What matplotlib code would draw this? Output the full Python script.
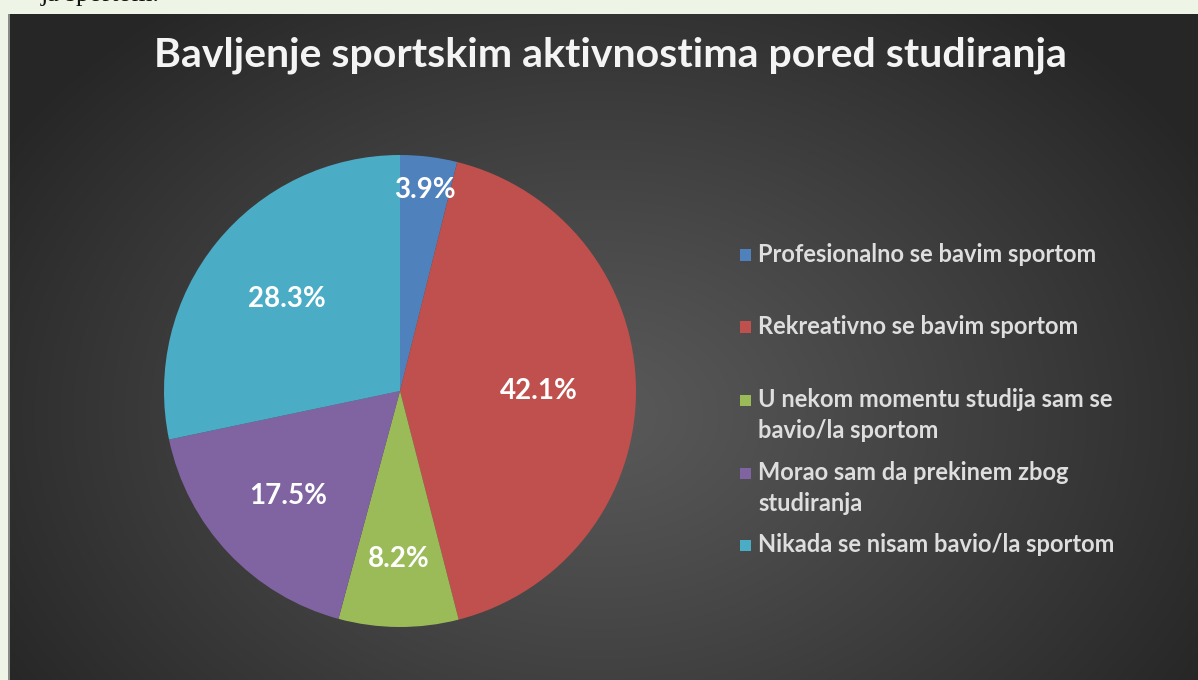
import numpy as np
import matplotlib
matplotlib.use("Agg")
import matplotlib.pyplot as plt
from matplotlib.patches import Rectangle

# --- data ---
categories = [
    "Profesionalno se bavim sportom",
    "Rekreativno se bavim sportom",
    "U nekom momentu studija sam se\nbavio/la sportom",
    "Morao sam da prekinem zbog\nstudiranja",
    "Nikada se nisam bavio/la sportom",
]
shares = [3.9, 42.1, 8.2, 17.5, 28.3]
colors = ["#4F81BD", "#C0504D", "#9BBB59", "#8064A2", "#4BACC6"]
title = "Bavljenje sportskim aktivnostima pored studiranja"

W, H = 1198, 680
fig = plt.figure(figsize=(W / 100, H / 100), dpi=100)
fig.patch.set_facecolor("#eff5e6")

def px(x0, y0, w, h):
    # pixel box (top-left origin) -> figure fraction
    return [x0 / W, 1 - (y0 + h) / H, w / W, h / H]

# --- dark panel with radial gradient ---
panel = [9, 14, W - 9, H - 14]
bg = fig.add_axes(px(*panel))
yy, xx = np.mgrid[0:panel[3], 0:panel[2]]
cx, cy = 590, 400
d = np.sqrt(((xx - cx) / 700.0) ** 2 + ((yy - cy) / 520.0) ** 2)
d = np.clip(d, 0, 1)
shade = 0.35 - 0.20 * d ** 1.1
bg.imshow(np.dstack([shade] * 3), aspect="auto", interpolation="bilinear")
bg.set_axis_off()
fig.add_artist(Rectangle((8 / W, 0), 2 / W, 1 - 14 / H, transform=fig.transFigure,
                         color="#8a8a8a", lw=0))

# text of the page above the chart, cut off by the top edge
fig.text(160 / W, 1 - 1 / H, "ja sportom.", ha="right", va="baseline",
         fontsize=19, family="Liberation Serif", color="#111111")

# --- title ---
fig.text(610 / W, 1 - 67 / H, title, ha="center", va="baseline",
         fontsize=29.5, fontweight="bold", family="Lato", color="#f4f4f4")

# --- pie ---
r_px = 236
ax = fig.add_axes(px(400 - r_px, 391 - r_px, 2 * r_px, 2 * r_px))
wedges, _ = ax.pie(shares, colors=colors, startangle=90, counterclock=False,
                   radius=1, wedgeprops=dict(linewidth=0))
ax.set_xlim(-1, 1)
ax.set_ylim(-1, 1)
ax.set_aspect("equal")
ax.set_axis_off()

label_dist = [0.86, 0.59, 0.71, 0.65, 0.62]
for w, v, ld in zip(wedges, shares, label_dist):
    ang = np.deg2rad((w.theta1 + w.theta2) / 2)
    ax.text(ld * np.cos(ang), ld * np.sin(ang), f"{v:.1f}%", ha="center", va="center",
            fontsize=20, fontweight="bold", family="Lato", color="white")

# --- legend (one text per line, Excel-like uneven spacing) ---
legend_y = [255, 327, 400, 473, 545]
line_step = 31
for lab, c, y in zip(categories, colors, legend_y):
    fig.add_artist(Rectangle((740 / W, 1 - (y + 5.5) / H), 11 / W, 11 / H,
                             transform=fig.transFigure, color=c, lw=0))
    for i, part in enumerate(lab.split("\n")):
        fig.text(758 / W, 1 - (y + 7 + i * line_step) / H, part, ha="left", va="baseline",
                 fontsize=17, fontweight="bold", family="Lato", color="#dedede")

fig.savefig("out.png", dpi=100, facecolor=fig.get_facecolor())
